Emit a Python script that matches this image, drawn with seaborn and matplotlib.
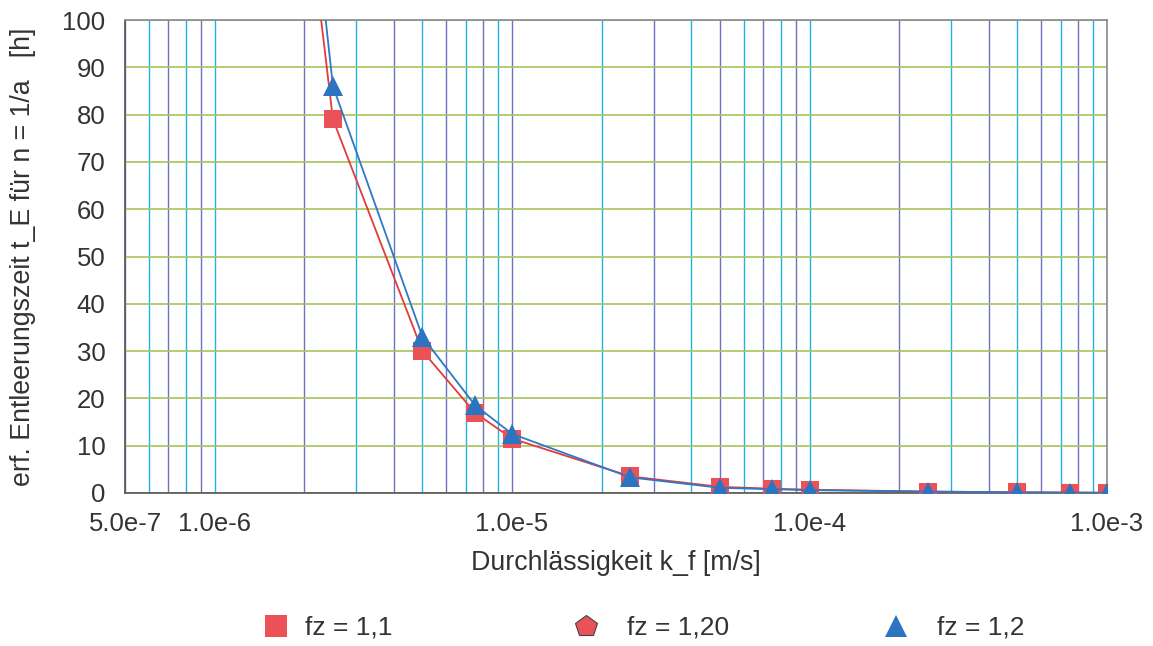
import numpy as np
import pandas as pd
import matplotlib
matplotlib.use("Agg")
import matplotlib.pyplot as plt
from matplotlib.lines import Line2D
from matplotlib.ticker import FixedLocator, NullFormatter
import seaborn as sns

# ---- data ----
k_f = [1e-6, 2.5e-6, 5e-6, 7.5e-6, 1e-5, 2.5e-5, 5e-5, 7.5e-5, 1e-4, 2.5e-4, 5e-4, 7.5e-4, 1e-3]
t_fz_1_1 = [290, 79, 30, 17, 11.5, 3.5, 1.3, 0.9, 0.7, 0.3, 0.15, 0.1, 0.05]
t_fz_1_2 = [315, 86, 33, 18.6, 12.5, 3.3, 1.1, 0.8, 0.6, 0.3, 0.15, 0.1, 0.05]
legend_labels = ["fz = 1,1", "fz = 1,20", "fz = 1,2"]
x_major = [5e-7, 1e-6, 1e-5, 1e-4, 1e-3]
x_major_labels = ["5.0e-7", "1.0e-6", "1.0e-5", "1.0e-4", "1.0e-3"]
y_ticks = list(range(0, 101, 10))

sns.set_theme(style="white")
plt.rcParams["font.family"] = ["Liberation Sans", "DejaVu Sans"]

TXT = "#333333"
RED_LINE = "#e23b3b"
RED_MK = "#ea5257"
BLUE_LINE = "#2e78c6"
BLUE_MK = "#2a74c2"
CYAN = "#22b3e6"
PURPLE = "#6f72bf"
GREEN = "#a9c25e"

fig = plt.figure(figsize=(11.53, 6.46), dpi=100)
ax = fig.add_axes([125 / 1153, 1 - 493 / 646, (1107 - 125) / 1153, (493 - 20) / 646])

df1 = pd.DataFrame({"k": k_f, "t": t_fz_1_1})
df2 = pd.DataFrame({"k": k_f, "t": t_fz_1_2})

sns.lineplot(data=df1, x="k", y="t", ax=ax, color=RED_LINE, linewidth=1.3,
             marker="s", markersize=13.5, markerfacecolor=RED_MK,
             markeredgewidth=0, zorder=4)
sns.lineplot(data=df2, x="k", y="t", ax=ax, color=BLUE_LINE, linewidth=1.3,
             marker="^", markersize=14.5, markerfacecolor=BLUE_MK,
             markeredgewidth=0, zorder=5)

ax.set_xscale("log")
ax.set_xlim(5e-7, 1e-3)
ax.set_ylim(0, 100)

# ticks
minor = []
for dec in [1e-7, 1e-6, 1e-5, 1e-4]:
    for m in range(2, 10):
        v = m * dec
        if 5e-7 < v < 1e-3 and not any(abs(v - M) / M < 1e-9 for M in x_major):
            minor.append(v)
ax.xaxis.set_major_locator(FixedLocator(x_major))
ax.set_xticklabels(x_major_labels)
ax.xaxis.set_minor_locator(FixedLocator(minor))
ax.xaxis.set_minor_formatter(NullFormatter())
ax.set_yticks(y_ticks)

ax.tick_params(axis="both", which="both", direction="out", length=10, width=1.0,
               labelsize=18.5, labelcolor=TXT, pad=4)
ax.tick_params(axis="y", colors=GREEN, labelcolor=TXT)

ax.grid(True, axis="y", color=GREEN, linewidth=1.2)
ax.grid(True, axis="x", which="both", linewidth=1.0)
ax.set_axisbelow(True)

# alternate vertical grid colours
allpos = sorted(x_major + minor)
major_ticks = ax.xaxis.get_major_ticks(len(x_major))
minor_ticks = ax.xaxis.get_minor_ticks(len(minor))
for i, v in enumerate(x_major):
    c = PURPLE if allpos.index(v) % 2 == 0 else CYAN
    major_ticks[i].gridline.set_color(c)
    major_ticks[i].tick1line.set_color(c)
for i, v in enumerate(minor):
    c = PURPLE if allpos.index(v) % 2 == 0 else CYAN
    minor_ticks[i].gridline.set_color(c)
    minor_ticks[i].tick1line.set_color(c)

for side in ["left", "bottom"]:
    ax.spines[side].set_color("#555555")
    ax.spines[side].set_linewidth(1.2)
for side in ["top", "right"]:
    ax.spines[side].set_color("#8a8a8a")
    ax.spines[side].set_linewidth(1.2)

ax.set_xlabel("Durchlässigkeit k_f [m/s]", fontsize=19.3, color=TXT, labelpad=10)
ax.set_ylabel("erf. Entleerungszeit t_E für n = 1/a   [h]", fontsize=19.3, color=TXT, labelpad=19)

handles = [
    Line2D([], [], linestyle="none", marker="s", markersize=16, markerfacecolor=RED_MK, markeredgewidth=0),
    Line2D([], [], linestyle="none", marker="p", markersize=16, markerfacecolor=RED_MK,
           markeredgecolor="#444444", markeredgewidth=0.8),
    Line2D([], [], linestyle="none", marker="^", markersize=16, markerfacecolor=BLUE_MK, markeredgewidth=0),
]
legend_x = [263, 573, 883]
legend_pad = [0.6, 1.05, 1.05]
for h, lab, xpx, pad in zip(handles, legend_labels, legend_x, legend_pad):
    fig.legend([h], [lab], loc="center left", bbox_to_anchor=(xpx / 1153, 1 - 628 / 646),
               frameon=False, fontsize=19, handlelength=1.0, handletextpad=pad,
               borderpad=0, borderaxespad=0, labelcolor=TXT)

fig.savefig("out.png", dpi=100)
